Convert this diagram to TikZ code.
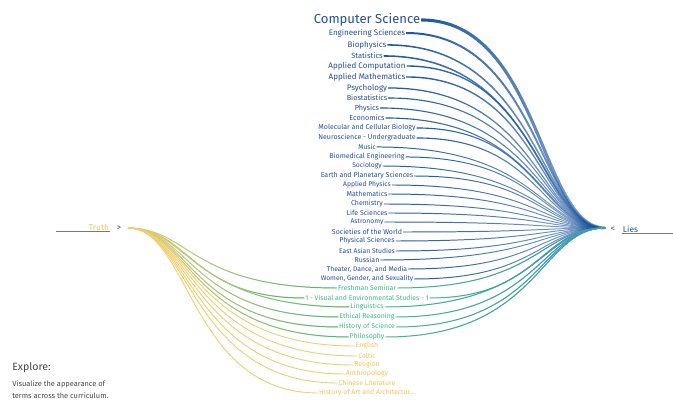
\documentclass[tikz,border=0pt]{standalone}
\usepackage{fontspec}
\setmainfont{Fira Sans}
\usetikzlibrary{fadings}

\definecolor{lieblue}{RGB}{28,86,158}
\definecolor{paleblue}{RGB}{80,138,200}
\definecolor{bluetext}{RGB}{38,80,150}
\definecolor{midgreen}{RGB}{62,186,132}
\definecolor{truthgold}{RGB}{238,196,88}
\definecolor{goldline}{RGB}{240,205,112}
\definecolor{rulegray}{RGB}{120,120,120}
\definecolor{notegray}{RGB}{70,70,70}

% fadings for the colour change along the curves
\tikzfading[name=fadein, left color=transparent!100, right color=transparent!0]
\tikzfading[name=fadeout, left color=transparent!0, right color=transparent!50]

\begin{document}
\begin{tikzpicture}[x=0.025cm, y=-0.025cm,
    lbl/.style={inner sep=0.5pt},
    sidelbl/.style={inner sep=0.5pt, font=\fontsize{6}{7}\selectfont},
    rule/.style={draw=rulegray, line width=0.8pt},
    bluecurve/.style={draw=lieblue, path fading=fadeout},
    greencurve/.style={draw=midgreen, line width=0.7pt},
    goldcurve/.style={draw=goldline, line width=0.65pt}]

    \useasboundingbox (0,0) rectangle (673,400);

    % end points
    \coordinate (truth) at (128,228);
    \coordinate (lies) at (605,228);
    \coordinate (truthout) at (190,228);
    \coordinate (liesin) at (540,228);

    \node[sidelbl, text=truthgold, anchor=east] (truthlbl) at (110,227) {Truth};
    \node[sidelbl, text=notegray] (truthmark) at (119,228) {>};
    \draw[rule] (truthlbl.south east) -- ++(-54,0);

    \node[sidelbl, text=notegray] (liesmark) at (613,229) {<};
    \node[sidelbl, text=lieblue, anchor=west] (lieslbl) at (622,229) {Lies};
    \draw[rule] (lieslbl.south west) -- ++(51,0);

    % courses that only lead to lies
    \foreach \yy/\lab/\fs/\lw [count=\i] in {
        20/Computer Science/9.3/2.2,
        33/Engineering Sciences/5.7/1.4,
        45/Biophysics/5.7/1.1,
        56/Statistics/5.4/1.1,
        66/Applied Computation/5.7/1,
        77/Applied Mathematics/5.7/1,
        88/Psychology/5.7/0.9,
        98/Biostatistics/5.2/0.8,
        108/Physics/5.2/0.8,
        118/Economics/5.2/0.8,
        128/Molecular and Cellular Biology/5/0.8,
        138/Neuroscience - Undergraduate/5/0.8,
        147/Music/4.8/0.7,
        157/Biomedical Engineering/5/0.7,
        166/Sociology/4.8/0.7,
        176/Earth and Planetary Sciences/5/0.7,
        185/Applied Physics/4.8/0.7,
        194/Mathematics/5/0.7,
        204/Chemistry/5/0.7,
        213/Life Sciences/5/0.7,
        222/Astronomy/4.8/0.7,
        232/Societies of the World/5/0.7,
        241/Physical Sciences/5/0.7,
        251/East Asian Studies/4.8/0.7,
        260/Russian/5/0.7,
        269/{Theater, Dance, and Media}/4.8/0.7,
        279/{Women, Gender, and Sexuality}/4.8/0.7}
    {
        \node[lbl, text=bluetext, font=\fontsize{\fs}{\fs}\selectfont] (b\i) at (367,\yy) {\lab};
        \draw[bluecurve, line width=\lw pt] (b\i.east) .. controls (540,\yy) and (liesin) .. (lies);
    }

    % courses on both sides
    \foreach \yy/\lab [count=\i] in {
        288/Freshman Seminar,
        298/1 - Visual and Environmental Studies - 1,
        307/Linguistics,
        317/Ethical Reasoning,
        327/History of Science,
        337/Philosophy}
    {
        \node[lbl, text=midgreen, font=\fontsize{4.9}{4.9}\selectfont] (g\i) at (367,\yy) {\lab};
        \draw[goldcurve] (truth) .. controls (truthout) and (190,\yy) .. (g\i.west);
        \draw[greencurve, path fading=fadein] (truth) .. controls (truthout) and (190,\yy) .. (g\i.west);
        \draw[greencurve] (g\i.east) .. controls (540,\yy) and (liesin) .. (lies);
        \draw[greencurve, draw=paleblue, path fading=fadein] (g\i.east) .. controls (540,\yy) and (liesin) .. (lies);
    }

    % courses that only lead to truth
    \foreach \yy/\lab [count=\i] in {
        346/English,
        356/Celtic,
        365/Religion,
        374/Anthropology,
        383/Chinese Literature,
        393/{History of Art and Architectur\ldots}}
    {
        \node[lbl, text=truthgold, font=\fontsize{4.9}{4.9}\selectfont] (y\i) at (367,\yy) {\lab};
        \draw[goldcurve] (truth) .. controls (truthout) and (190,\yy) .. (y\i.west);
    }

    \node[text=notegray, anchor=west, inner sep=0pt, font=\fontsize{7.5}{9}\selectfont] (explore) at (12,368) {Explore:};
    \node[text=notegray, anchor=north west, inner sep=0pt, align=left,
          font=\fontsize{5.3}{8.5}\selectfont] (note) at (12,380)
          {Visualize the appearance of\\terms across the curriculum.};
\end{tikzpicture}
\end{document}
